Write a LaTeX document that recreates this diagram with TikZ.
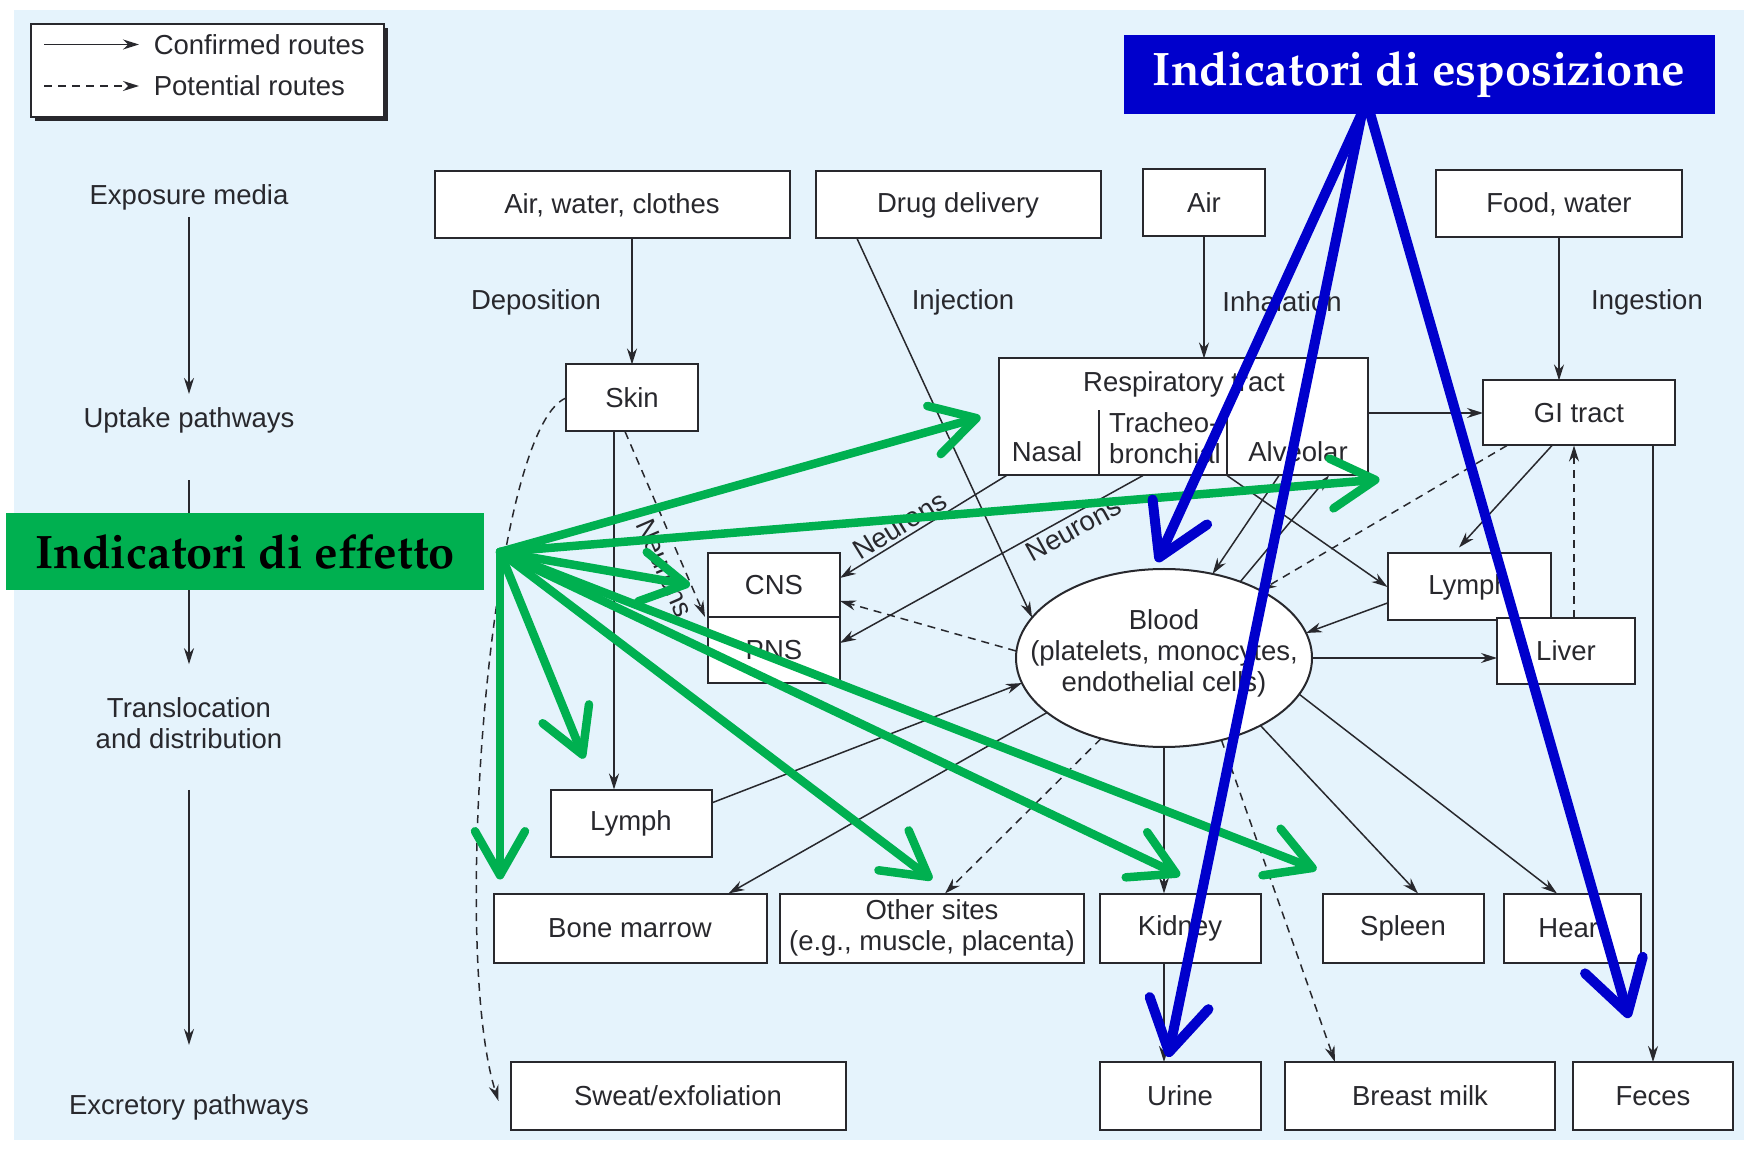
\documentclass[tikz,border=0pt]{standalone}
\usepackage[T1,TU]{fontenc}
\usepackage{fontspec}
\setmainfont{Liberation Sans}
\usepackage{tikz}
\usetikzlibrary{arrows.meta, positioning, shapes.geometric, calc}

\definecolor{bgblue}{RGB}{229,243,252}
\definecolor{inkgray}{RGB}{40,40,45}
\definecolor{effgreen}{RGB}{0,176,80}
\definecolor{espblue}{RGB}{0,0,204}

\newcommand{\indfont}{\fontencoding{T1}\fontfamily{ppl}\fontseries{b}\fontshape{n}\fontsize{47}{52}\selectfont}

\begin{document}
\begin{tikzpicture}[x=1pt, y=1pt,
    font=\fontsize{27.5}{31}\selectfont,
    boxnode/.style={draw=inkgray, line width=2pt, fill=white, text=inkgray,
        inner sep=0pt, outer sep=0pt, minimum height=67pt, align=center},
    lbl/.style={text=inkgray, inner sep=3pt, align=center},
    confirmed/.style={draw=inkgray, line width=1.5pt,
        -{Stealth[length=16pt, width=10pt]}},
    potential/.style={confirmed, dash pattern=on 8pt off 6pt},
    effetto/.style={draw=effgreen, line width=8.5pt, line cap=round,
        -{Straight Barb[length=44pt, width=50pt, round]}},
    esposizione/.style={draw=espblue, line width=10pt, line cap=round,
        -{Straight Barb[length=50pt, width=60pt, round]}}
]

    \useasboundingbox (0,0) rectangle (1744,1149);
    \fill[bgblue] (14,9) rectangle (1744,1139);

    % LEGEND
    \fill[inkgray] (35,1028) rectangle (388,1121);
    \node[draw=inkgray, line width=1.5pt, fill=white, minimum width=353pt,
        minimum height=93pt, inner sep=0pt, outer sep=0pt] (legend) at (207.5,1078.5) {};
    \draw[confirmed] ([shift={(13pt,26pt)}]legend.west) -- ++(95,0)
        node[lbl, right=11pt] (lgconf) {Confirmed routes};
    \draw[potential] ([shift={(13pt,-15.5pt)}]legend.west) -- ++(95,0)
        node[lbl, right=11pt] (lgpot) {Potential routes};

    % STAGES (LEFT COLUMN)
    \node[lbl] (stexp) at (189,952) {Exposure media};
    \node[lbl] (stupt) at (189,729) {Uptake pathways};
    \node[lbl] (sttrans) at (189,426) {Translocation\\and distribution};
    \node[lbl] (stexc) at (189,42) {Excretory pathways};
    \draw[confirmed, shorten <=4pt, shorten >=10pt] (stexp) -- (stupt);
    \draw[confirmed, shorten <=44pt, shorten >=30pt] (stupt) -- (sttrans);
    \draw[confirmed, shorten <=38pt, shorten >=46pt] (sttrans) -- (stexc);

    % EXPOSURE MEDIA
    \node[boxnode, minimum width=355pt] (awc) at (612,944) {Air, water, clothes};
    \node[boxnode, minimum width=285pt] (drug) at (958,944) {Drug delivery};
    \node[boxnode, minimum width=122pt] (air) at (1204,946) {Air};
    \node[boxnode, minimum width=246pt] (food) at (1559,945) {Food, water};

    \node[lbl] (ldep) at (536,847) {Deposition};
    \node[lbl] (linj) at (963,847) {Injection};
    \node[lbl] (linh) at (1282,847) {Inhalation};
    \node[lbl] (ling) at (1647,847) {Ingestion};

    % UPTAKE ORGANS
    \node[boxnode, minimum width=132pt] (skin) at (632,751) {Skin};
    \node[boxnode, minimum width=369pt, minimum height=117pt] (resp) at (1183,732) {};
    \node[lbl] (resptitle) at (1184,765) {Respiratory tract};
    \draw[inkgray, line width=2pt] ([xshift=-84pt]resp.south) -- ++(0,65);
    \draw[inkgray, line width=2pt] ([xshift=44pt]resp.south) -- ++(0,65);
    \node[lbl] (nasal) at (1047,697) {Nasal};
    \node[lbl, anchor=west, align=left] (trach) at (1106,711) {Tracheo-\\bronchial};
    \node[lbl] (alv) at (1298,697) {Alveolar};
    \node[boxnode, minimum width=192pt, minimum height=65pt] (gi) at (1579,736) {GI tract};

    % TRANSLOCATION
    \node[boxnode, minimum width=132pt, minimum height=64pt] (cns) at (774,564) {CNS};
    \node[boxnode, minimum width=132pt, minimum height=66pt, below=0pt of cns] (pns) {PNS};
    \node[boxnode, ellipse, minimum width=296pt, minimum height=178pt] (blood) at (1164,491) {};
    \node[lbl] (bloodtxt) at (1164,496) {Blood\\(platelets, monocytes,\\endothelial cells)};
    \node[boxnode, minimum width=163pt] (lymphR) at (1469,562) {Lymph};
    \node[boxnode, minimum width=138pt, minimum height=66pt] (liver) at (1566,498) {Liver};
    \node[boxnode, minimum width=161pt] (lymphL) at (631,326) {Lymph};

    % TARGET ORGANS
    \node[boxnode, minimum width=273pt, minimum height=69pt] (bone) at (630,221) {Bone marrow};
    \node[boxnode, minimum width=304pt, minimum height=69pt] (other) at (932,221)
        {Other sites\\(e.g., muscle, placenta)};
    \node[boxnode, minimum width=161pt, minimum height=69pt] (kidney) at (1180,221) {Kidney};
    \node[boxnode, minimum width=161pt, minimum height=69pt] (spleen) at (1403,221) {Spleen};
    \node[boxnode, minimum width=137pt, minimum height=69pt] (heart) at (1572,221) {Heart};

    % EXCRETION
    \node[boxnode, minimum width=335pt, minimum height=68pt] (sweat) at (678,53) {Sweat/exfoliation};
    \node[boxnode, minimum width=161pt, minimum height=68pt] (urine) at (1180,53) {Urine};
    \node[boxnode, minimum width=270pt, minimum height=68pt] (bmilk) at (1420,53) {Breast milk};
    \node[boxnode, minimum width=160pt, minimum height=68pt] (feces) at (1653,53) {Feces};

    % UPTAKE ROUTES
    \draw[confirmed] (awc.south -| skin.north) -- (skin.north);
    \draw[confirmed] ([xshift=-101pt]drug.south) -- (blood.163);
    \draw[confirmed] (air.south) -- (air.south |- resp.north);
    \draw[confirmed] (food.south) -- (food.south |- gi.north);
    \draw[confirmed] (resp.east |- gi.west) -- (gi.west);

    % NEURONAL ROUTES
    \draw[potential] ([xshift=-7pt]skin.south) --
        node[lbl, sloped, below=4pt, pos=0.7] {Neurons} ([xshift=-3pt]pns.north west);
    \draw[confirmed] ([xshift=8pt]resp.south west) --
        node[lbl, sloped, above, pos=0.6] {Neurons} ([yshift=7pt]cns.east);
    \draw[confirmed] ([xshift=-40pt]resp.south) --
        node[lbl, sloped, below, pos=0.25] {Neurons} ([yshift=7pt]pns.east);
    \draw[potential] ([yshift=7pt]blood.west) -- ([yshift=-16pt]cns.east);

    % SKIN ROUTES
    \draw[confirmed] ([xshift=-18pt]skin.south) -- ([xshift=-18pt]skin.south |- lymphL.north);
    \draw[potential] (skin.west) .. controls (490,720) and (450,200) ..
        ([shift={(-12pt,-5pt)}]sweat.west);

    % RESPIRATORY / GI ROUTES
    \draw[confirmed] ([xshift=44pt]resp.south) -- (lymphR.west);
    \draw[confirmed] ([xshift=96pt]resp.south) -- (blood.60);
    \draw[confirmed] (blood.45) -- ([xshift=146pt]resp.south);
    \draw[confirmed] ([xshift=-27pt]gi.south) -- ([shift={(-10pt,6pt)}]lymphR.north);
    \draw[potential] ([xshift=-72pt]gi.south) -- (blood.35);
    \draw[confirmed] ([yshift=-16pt]lymphR.west) -- (blood.10);
    \draw[confirmed] (blood.east) -- (blood.east -| liver.west);
    \draw[potential] ([xshift=8pt]liver.north) -- ([xshift=8pt]liver.north |- gi.south);
    \draw[confirmed] (gi.south -| feces.north) -- (feces.north);

    % DISTRIBUTION FROM BLOOD
    \draw[confirmed] ([yshift=20pt]lymphL.east) -- (blood.190);
    \draw[confirmed] (blood.205) -- ([xshift=-38pt]bone.north east);
    \draw[potential] (blood.232) -- ([xshift=13pt]other.north);
    \draw[confirmed] (blood.south) -- (blood.south |- kidney.north);
    \draw[confirmed] (kidney.south -| blood.south) -- (urine.north -| blood.south);
    \draw[potential] (blood.305) -- ([xshift=50pt]bmilk.north west);
    \draw[confirmed] (blood.325) -- ([xshift=15pt]spleen.north);
    \draw[confirmed] (blood.345) -- ([xshift=-15pt]heart.north);

    % INDICATORI DI EFFETTO
    \coordinate (effsrc) at (500,597);
    \draw[effetto] (effsrc) -- ([xshift=-18pt]resp.west);
    \draw[effetto] (effsrc) -- ([shift={(12pt,-4pt)}]resp.south east);
    \draw[effetto] (effsrc) -- ([xshift=-18pt]cns.west);
    \draw[effetto] (effsrc) -- ([shift={(-47pt,31pt)}]lymphL.north);
    \draw[effetto] (effsrc) -- ($(effsrc |- bone.north)+(0,14)$);
    \draw[effetto] (effsrc) -- ([yshift=14pt]other.north);
    \draw[effetto] (effsrc) -- ([yshift=18pt]kidney.north);
    \draw[effetto] (effsrc) -- ([shift={(-6pt,24pt)}]spleen.north west);
    \node[fill=effgreen, minimum width=478pt, minimum height=77pt, inner sep=0pt,
        font=\indfont, text=black] (effbox) at (245,597) {Indicatori di effetto};

    % INDICATORI DI ESPOSIZIONE
    \coordinate (espsrc) at (1362,1036);
    \draw[esposizione] (espsrc) -- ([shift={(-7pt,7pt)}]blood.north);
    \draw[esposizione] (espsrc) -- ([shift={(-12pt,5pt)}]urine.north);
    \draw[esposizione] ([xshift=8pt]espsrc) -- ([shift={(-24pt,44pt)}]feces.north);
    \node[fill=espblue, minimum width=591pt, minimum height=79pt, inner sep=0pt,
        font=\indfont, text=white] (espbox) at (1419,1074) {Indicatori di esposizione};

\end{tikzpicture}
\end{document}
